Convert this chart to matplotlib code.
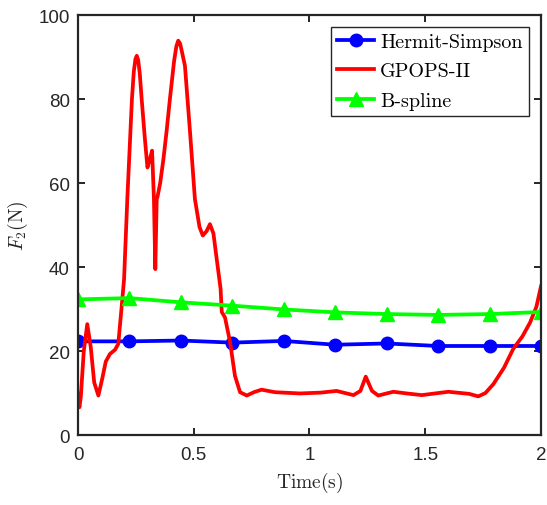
import numpy as np
import matplotlib
matplotlib.use("Agg")
from matplotlib import rcParams
rcParams["mathtext.fontset"] = "cm"
import matplotlib.pyplot as plt

# Hermit-Simpson and B-spline nodes
t_nodes = [0, 0.222, 0.444, 0.667, 0.889, 1.111, 1.333, 1.556, 1.778, 2.0]
f_hs = [22.3, 22.3, 22.5, 22.0, 22.4, 21.5, 21.8, 21.2, 21.2, 21.2]
f_bs = [32.3, 32.6, 31.6, 30.8, 29.9, 29.2, 28.8, 28.6, 28.8, 29.3]

# GPOPS-II trajectory
t_gp = [0.0, 0.006, 0.012, 0.025, 0.040, 0.055, 0.070, 0.088, 0.105, 0.120,
        0.138, 0.160, 0.174, 0.189, 0.199, 0.213, 0.233, 0.241, 0.248, 0.254,
        0.260, 0.267, 0.275, 0.289, 0.300, 0.312, 0.320, 0.328, 0.334, 0.340,
        0.343, 0.355, 0.369, 0.383, 0.397, 0.415, 0.425, 0.433, 0.441, 0.450,
        0.462, 0.484, 0.505, 0.525, 0.539, 0.555, 0.570, 0.585, 0.599, 0.616,
        0.621, 0.635, 0.657, 0.678, 0.700, 0.729, 0.760, 0.793, 0.850, 0.959,
        1.050, 1.117, 1.190, 1.220, 1.243, 1.270, 1.297, 1.362, 1.420, 1.485,
        1.600, 1.690, 1.729, 1.760, 1.794, 1.840, 1.880, 1.920, 1.953, 1.980,
        2.0]
f_gp = [9.8, 6.6, 9.0, 20.0, 26.4, 21.0, 12.5, 9.4, 13.5, 17.5,
        19.3, 20.3, 21.7, 30.8, 37.1, 56.2, 80.0, 86.5, 89.5, 90.3,
        89.3, 86.0, 80.0, 70.5, 63.7, 66.0, 67.7, 56.2, 39.5, 56.2,
        56.6, 60.0, 65.7, 72.5, 80.0, 89.0, 92.6, 93.9, 93.2, 91.0,
        87.9, 72.1, 56.2, 49.5, 47.5, 48.5, 50.2, 48.0, 42.0, 34.8,
        29.3, 28.0, 22.1, 14.1, 10.2, 9.4, 10.2, 10.8, 10.2, 9.9,
        10.1, 10.5, 9.5, 10.5, 13.9, 10.5, 9.4, 10.3, 9.9, 9.5,
        10.3, 9.8, 9.2, 10.0, 12.1, 16.0, 20.5, 23.5, 26.8, 30.5,
        35.4]

fig = plt.figure(figsize=(5.47, 5.06), dpi=100)
ax = fig.add_axes([0.1426, 0.1383, 0.8464, 0.8300])

ax.plot(t_nodes, f_hs, "-o", color="#0000ff", lw=2.7, ms=9, label="Hermit-Simpson")
ax.plot(t_gp, f_gp, "-", color="#ff0000", lw=2.7, label="GPOPS-II")
ax.plot(t_nodes, f_bs, "-^", color="#00ff00", lw=2.7, ms=10, label="B-spline")

ax.set_xlim(0, 2)
ax.set_ylim(0, 100)
ax.set_xticks([0, 0.5, 1, 1.5, 2])
ax.set_xticklabels(["0", "0.5", "1", "1.5", "2"])
ax.set_yticks([0, 20, 40, 60, 80, 100])

for s in ax.spines.values():
    s.set_linewidth(1.6)
    s.set_color("#262626")
ax.tick_params(direction="in", top=True, right=True, length=5, width=1.4,
               colors="#262626", labelsize=13.5)
ax.tick_params(axis="x", pad=8)
ax.tick_params(axis="y", pad=6)
for lab in ax.get_xticklabels() + ax.get_yticklabels():
    lab.set_fontfamily("Liberation Sans")

ax.set_xlabel(r"$\mathrm{Time(s)}$", fontsize=14, color="#262626", labelpad=5)
ax.set_ylabel(r"$F_2\mathrm{(N)}$", fontsize=14, color="#262626", labelpad=6)

leg = ax.legend(loc="upper right", prop={"family": "cmr10", "size": 14.5},
                handlelength=1.85, handletextpad=0.3, borderpad=0.3,
                labelspacing=0.55, borderaxespad=0.6, fancybox=False,
                framealpha=1)
leg.get_frame().set_edgecolor("#262626")
leg.get_frame().set_linewidth(1.0)

plt.savefig("out.png", dpi=100)
